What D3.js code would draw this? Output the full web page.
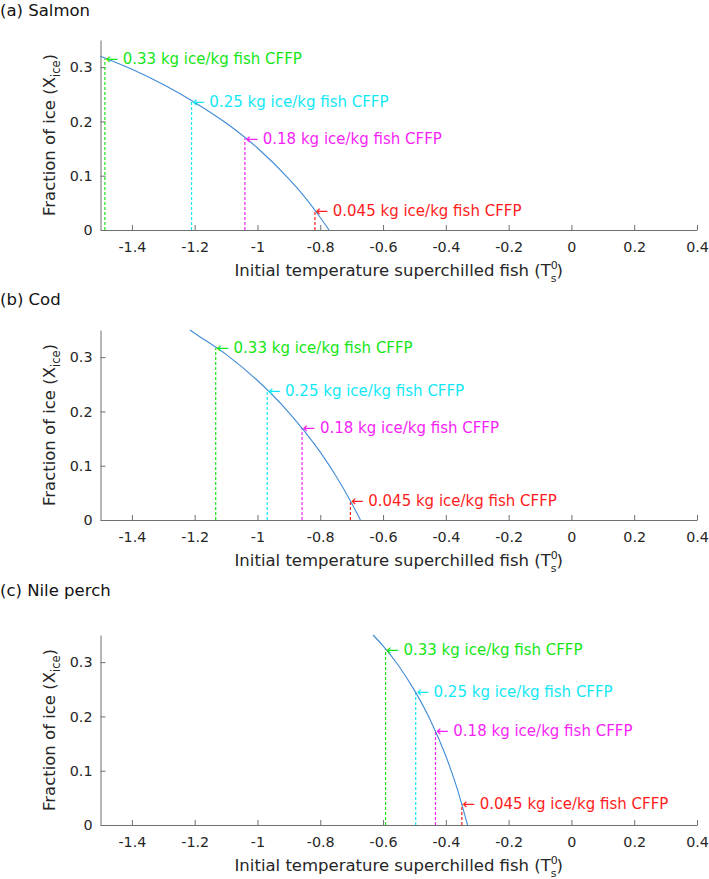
<!DOCTYPE html>
<html>
<head>
<meta charset="utf-8">
<script src="https://cdn.jsdelivr.net/npm/d3@7"></script>
<style>
  html, body { margin: 0; padding: 0; background: #fff; }
  svg { display: block; font-family: "DejaVu Sans", sans-serif; }
</style>
</head>
<body>
<svg id="chart" width="709" height="879"></svg>
<script>
// ---- data ----
const panelTitles = ["(a) Salmon", "(b) Cod", "(c) Nile perch"];

const salmonT = [-1.5, -1.4, -1.3, -1.2, -1.1, -1.0, -0.9, -0.85, -0.8, -0.772];
const salmonX = [0.320, 0.296, 0.268, 0.235, 0.197, 0.151, 0.094, 0.061, 0.023, 0];
const codT = [-1.215, -1.2, -1.1, -1.0, -0.9, -0.8, -0.75, -0.7, -0.672];
const codX = [0.350, 0.344, 0.305, 0.257, 0.198, 0.125, 0.081, 0.031, 0];
const nileT = [-0.632, -0.6, -0.55, -0.5, -0.45, -0.4, -0.37, -0.35, -0.331];
const nileX = [0.350, 0.330, 0.293, 0.248, 0.194, 0.127, 0.078, 0.040, 0];

const salmonMarkT = [-1.486, -1.210, -1.040, -0.817];
const salmonMarkX = [0.316, 0.237, 0.169, 0.036];
const codMarkT = [-1.133, -0.969, -0.858, -0.704];
const codMarkX = [0.317, 0.239, 0.170, 0.035];
const nileMarkT = [-0.592, -0.496, -0.433, -0.349];
const nileMarkX = [0.324, 0.245, 0.174, 0.039];

const markLabels = ["0.33 kg ice/kg fish CFFP", "0.25 kg ice/kg fish CFFP",
                    "0.18 kg ice/kg fish CFFP", "0.045 kg ice/kg fish CFFP"];
const markColors = ["#16e616", "#12e8f5", "#f71ff7", "#ff1c1c"];

const xTicks = [-1.4, -1.2, -1, -0.8, -0.6, -0.4, -0.2, 0, 0.2, 0.4];
const xTickLabels = ["-1.4", "-1.2", "-1", "-0.8", "-0.6", "-0.4", "-0.2", "0", "0.2", "0.4"];
const yTicks = [0, 0.1, 0.2, 0.3];
const yTickLabels = ["0", "0.1", "0.2", "0.3"];

const panels = [
  { title: panelTitles[0], T: salmonT, X: salmonX, mT: salmonMarkT, mX: salmonMarkX },
  { title: panelTitles[1], T: codT, X: codX, mT: codMarkT, mX: codMarkX },
  { title: panelTitles[2], T: nileT, X: nileX, mT: nileMarkT, mX: nileMarkX }
];

// ---- layout ----
const layout = [
  { bottom: 230, titleY: 15.5 },
  { bottom: 520, titleY: 305 },
  { bottom: 825, titleY: 596 }
];
const plotH = 190;
const left = 100.5, right = 697;
const axisColor = "#707070";
const textColor = "#262626";

const svg = d3.select("#chart");
const x = d3.scaleLinear().domain([-1.5, 0.4]).range([left, right]);

panels.forEach((p, i) => {
  const L = layout[i];
  const y = d3.scaleLinear().domain([0, 0.35]).range([L.bottom, L.bottom - plotH]);
  const g = svg.append("g");

  // title
  svg.append("text")
    .attr("x", 0).attr("y", L.titleY)
    .attr("font-size", 16.5).attr("fill", "#111")
    .text(p.title);

  // x axis
  const xa = g.append("g")
    .attr("transform", `translate(0,${L.bottom})`)
    .call(d3.axisBottom(x).tickValues(xTicks)
      .tickFormat((d, k) => xTickLabels[k])
      .tickSize(-5).tickSizeOuter(0).tickPadding(11.4));
  // y axis
  const ya = g.append("g")
    .attr("transform", `translate(${left},0)`)
    .call(d3.axisLeft(y).tickValues(yTicks)
      .tickFormat((d, k) => yTickLabels[k])
      .tickSize(-5).tickSizeOuter(0).tickPadding(8));
  [xa, ya].forEach(a => {
    a.attr("font-family", "DejaVu Sans").attr("font-size", 14.3);
    a.select(".domain").attr("stroke", axisColor).attr("stroke-width", 1);
    a.selectAll(".tick line").attr("stroke", axisColor).attr("stroke-width", 1);
    a.selectAll(".tick text").attr("fill", textColor);
  });

  // axis labels
  const xl = svg.append("text")
    .attr("x", (left + right) / 2).attr("y", L.bottom + 46)
    .attr("text-anchor", "middle").attr("font-size", 16.5).attr("fill", textColor);
  xl.append("tspan").text("Initial temperature superchilled fish (T");
  xl.append("tspan").attr("font-size", 11).attr("dy", -7.5).text("0");
  xl.append("tspan").attr("font-size", 11).attr("dx", -7).attr("dy", 13).text("s");
  xl.append("tspan").attr("dy", -5.5).text(")");

  const yl = svg.append("text")
    .attr("transform", `translate(55,${L.bottom - plotH / 2}) rotate(-90)`)
    .attr("text-anchor", "middle").attr("font-size", 16.5).attr("fill", textColor);
  yl.append("tspan").text("Fraction of ice (X");
  yl.append("tspan").attr("font-size", 11.5).attr("dy", 4.5).text("ice");
  yl.append("tspan").attr("dy", -4.5).text(")");

  // dashed markers
  p.mT.forEach((t, k) => {
    g.append("line")
      .attr("x1", x(t)).attr("x2", x(t))
      .attr("y1", y(0)).attr("y2", y(p.mX[k]))
      .attr("stroke", markColors[k]).attr("stroke-width", 1.2)
      .attr("stroke-dasharray", "3,2");
  });

  // curve
  const pts = p.T.map((t, k) => [t, p.X[k]]);
  g.append("path")
    .datum(pts)
    .attr("fill", "none").attr("stroke", "#3f8bd6").attr("stroke-width", 1.1)
    .attr("d", d3.line().x(d => x(d[0])).y(d => y(d[1])).curve(d3.curveMonotoneX));

  // annotations
  p.mT.forEach((t, k) => {
    g.append("text")
      .attr("x", x(t) + 0.5).attr("y", y(p.mX[k]))
      .attr("dy", "0.36em")
      .attr("font-size", 15).attr("fill", markColors[k])
      .text("\u2190 " + markLabels[k]);
  });
});
</script>
</body>
</html>
